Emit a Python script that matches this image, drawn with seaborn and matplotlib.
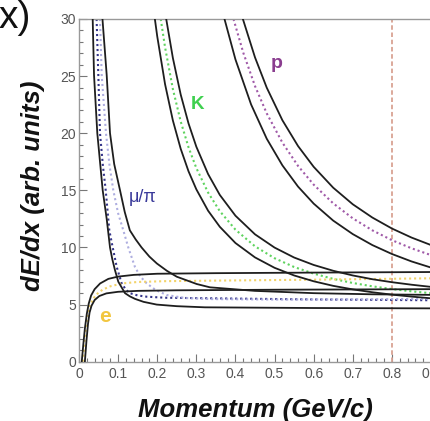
import matplotlib
matplotlib.use("Agg")
import matplotlib.pyplot as plt
from matplotlib.ticker import MultipleLocator
import seaborn as sns

# momentum (GeV/c) / dE/dx (arb. units)
# mu/pi band
mupi_lo_p = [0.035, 0.0384, 0.0468, 0.0606, 0.0708, 0.0793, 0.085, 0.0921, 0.1005, 0.1176, 0.13, 0.1432,
             0.165, 0.1987, 0.25, 0.322, 0.60, 0.90]
mupi_lo_v = [30.0, 25.1, 20.0, 15.0, 12.5, 10.0, 9.0, 8.0, 7.0, 6.0, 5.72, 5.5, 5.24, 5.0, 4.86, 4.76, 4.7, 4.67]
mu_p = [0.045, 0.0494, 0.0537, 0.061, 0.0683, 0.0775, 0.0862, 0.0964, 0.109, 0.120, 0.130, 0.150, 0.173,
        0.22, 0.335, 0.60, 0.90]
mu_v = [30.0, 25.1, 20.0, 17.2, 15.0, 11.5, 10.0, 8.3, 6.86, 6.3, 6.0, 5.8, 5.69, 5.6, 5.55, 5.45, 5.38]
pi_p = [0.0537, 0.058, 0.069, 0.078, 0.0877, 0.1, 0.1133, 0.126, 0.143, 0.157, 0.173, 0.195, 0.224, 0.27,
        0.335, 0.50, 0.70, 0.90]
pi_v = [30.0, 25.1, 20.0, 17.2, 15.0, 13.0, 11.5, 10.0, 8.3, 7.45, 6.86, 6.3, 5.84, 5.58, 5.48, 5.44, 5.46, 5.5]
mupi_hi_p = [0.060, 0.0708, 0.0793, 0.090, 0.1049, 0.117, 0.130, 0.145, 0.160, 0.18, 0.199, 0.225, 0.250,
             0.301, 0.335, 0.45, 0.60, 0.75, 0.90]
mupi_hi_v = [30.0, 25.1, 20.0, 17.3, 15.0, 13.1, 11.5, 10.7, 10.0, 9.2, 8.6, 7.95, 7.44, 6.8, 6.51, 6.2, 6.0,
             5.9, 5.85]

# kaon band
k_p = [0.209, 0.22, 0.24, 0.26, 0.28, 0.30, 0.33, 0.36, 0.40, 0.45, 0.50, 0.55, 0.60, 0.65, 0.70, 0.75,
       0.80, 0.85, 0.90]
k_v = [30.0, 27.53, 23.87, 21.03, 18.77, 16.95, 14.81, 13.18, 11.56, 10.10, 9.06, 8.29, 7.71, 7.25, 6.89,
       6.60, 6.36, 6.16, 6.00]
k_lo_p = [0.194, 0.20, 0.22, 0.24, 0.26, 0.28, 0.30, 0.33, 0.36, 0.40, 0.45, 0.50, 0.55, 0.60, 0.65, 0.70,
          0.75, 0.80, 0.85, 0.90]
k_lo_v = [30.0, 28.49, 24.30, 21.12, 18.64, 16.67, 15.09, 13.22, 11.81, 10.39, 9.13, 8.22, 7.55, 7.04, 6.64,
          6.33, 6.08, 5.87, 5.70, 5.55]
k_hi_p = [0.223, 0.24, 0.26, 0.28, 0.30, 0.33, 0.36, 0.40, 0.45, 0.50, 0.55, 0.60, 0.65, 0.70, 0.75, 0.80,
          0.85, 0.90]
k_hi_v = [30.0, 26.59, 23.39, 20.86, 18.82, 16.43, 14.60, 12.78, 11.15, 9.99, 9.12, 8.47, 7.96, 7.55, 7.22,
          6.96, 6.74, 6.55]

# proton band
pr_p = [0.395, 0.42, 0.45, 0.48, 0.52, 0.56, 0.60, 0.65, 0.70, 0.75, 0.80, 0.85, 0.90]
pr_v = [30.0, 27.05, 24.13, 21.74, 19.18, 17.14, 15.50, 13.86, 12.55, 11.50, 10.64, 9.93, 9.33]
pr_lo_p = [0.372, 0.40, 0.44, 0.48, 0.52, 0.56, 0.60, 0.65, 0.70, 0.75, 0.80, 0.85, 0.90]
pr_lo_v = [30.0, 26.46, 22.52, 19.52, 17.19, 15.33, 13.84, 12.35, 11.17, 10.21, 9.43, 8.78, 8.24]
pr_hi_p = [0.419, 0.45, 0.48, 0.52, 0.56, 0.60, 0.65, 0.70, 0.75, 0.80, 0.85, 0.90]
pr_hi_v = [30.0, 26.64, 23.99, 21.14, 18.88, 17.06, 15.23, 13.78, 12.62, 11.66, 10.87, 10.21]

# electron band
e_p = [0.010, 0.016, 0.022, 0.028, 0.036, 0.045, 0.06, 0.08, 0.11, 0.15, 0.22, 0.35, 0.60, 0.90]
e_v = [0.0, 2.5, 4.0, 4.9, 5.5, 5.9, 6.3, 6.6, 6.85, 6.98, 7.05, 7.1, 7.18, 7.3]
e_hi_p = [0.007, 0.011, 0.015, 0.020, 0.025, 0.031, 0.040, 0.054, 0.075, 0.10, 0.14, 0.20, 0.35, 0.60, 0.90]
e_hi_v = [0.0, 1.5, 2.9, 4.2, 5.1, 5.8, 6.35, 6.85, 7.25, 7.45, 7.6, 7.7, 7.75, 7.8, 7.85]
e_lo_p = [0.015, 0.019, 0.023, 0.027, 0.032, 0.040, 0.052, 0.07, 0.10, 0.15, 0.25, 0.50, 0.90]
e_lo_v = [0.0, 1.8, 3.3, 4.3, 4.9, 5.4, 5.75, 5.98, 6.12, 6.2, 6.25, 6.3, 6.35]

cut_p = 0.8

sns.set_style("ticks")
plt.rcParams['font.family'] = ['Liberation Sans', 'DejaVu Sans']

fig = plt.figure(figsize=(4.31, 4.21), dpi=100)
ax = fig.add_axes([79 / 431, 1 - 361.7 / 421, 352 / 431, 342.7 / 421])

dot = (0, (1, 1.4))
centers = [
    (mu_p, mu_v, '#35358a'),
    (pi_p, pi_v, '#aeaee0'),
    (k_p, k_v, '#5fd35f'),
    (pr_p, pr_v, '#a05aa8'),
    (e_p, e_v, '#f2d36a'),
]
for xs, ys, col in centers:
    sns.lineplot(x=xs, y=ys, ax=ax, color=col, linestyle=dot, linewidth=1.5, sort=False,
                 estimator=None, zorder=2)

edges = [(mupi_lo_p, mupi_lo_v), (mupi_hi_p, mupi_hi_v), (k_lo_p, k_lo_v), (k_hi_p, k_hi_v),
         (pr_lo_p, pr_lo_v), (pr_hi_p, pr_hi_v), (e_lo_p, e_lo_v), (e_hi_p, e_hi_v)]
for xs, ys in edges:
    sns.lineplot(x=xs, y=ys, ax=ax, color='#1e1e1e', linewidth=1.3, sort=False, estimator=None, zorder=3)

ax.axvline(cut_p, color='#d9a293', linestyle=(0, (2.5, 1.5)), linewidth=1.3, zorder=1)

ax.set_xlim(0, 0.9)
ax.set_ylim(0, 30)
ax.xaxis.set_major_locator(MultipleLocator(0.1))
ax.xaxis.set_minor_locator(MultipleLocator(0.02))
ax.yaxis.set_major_locator(MultipleLocator(5))
ax.yaxis.set_minor_locator(MultipleLocator(1))
ax.set_xticks([0, 0.1, 0.2, 0.3, 0.4, 0.5, 0.6, 0.7, 0.8, 0.9])
ax.set_xticklabels(['0', '0.1', '0.2', '0.3', '0.4', '0.5', '0.6', '0.7', '0.8', '0.9'])
ax.tick_params(which='major', direction='in', length=6, width=0.8, color='#777777',
               labelcolor='#555555', labelsize=10)
ax.tick_params(which='minor', direction='in', length=3, width=0.8, color='#777777')
ax.tick_params(axis='y', pad=2)
ax.tick_params(axis='x', pad=3.5)
for side in ['left', 'bottom', 'top']:
    ax.spines[side].set_color('#999999')
    ax.spines[side].set_linewidth(1.0)
ax.spines['right'].set_visible(False)

ax.set_xlabel('Momentum (GeV/c)', fontsize=18.5, fontweight='bold', fontstyle='italic',
              color='#111111', va='baseline')
ax.xaxis.set_label_coords(0.5, (361.7 - 416.5) / 342.7)
ax.set_ylabel('dE/dx (arb. units)', fontsize=18.5, fontweight='bold', fontstyle='italic',
              color='#111111', va='baseline')
ax.yaxis.set_label_coords((40 - 79) / 352, (361.7 - 186) / 342.7)

ax.text(0.506, 26.1, 'p', color='#8a3d8f', fontsize=14, fontweight='bold', ha='center', va='center')
ax.text(0.304, 22.5, 'K', color='#3fd04f', fontsize=13.5, fontweight='bold', ha='center', va='center')
ax.text(0.162, 14.4, 'μ/π', color='#3a3a9a', fontsize=13, ha='center', va='center')
ax.text(0.066, 4.0, 'e', color='#f2c640', fontsize=15, fontweight='bold', ha='center', va='center')

fig.text(-0.004, 1 - 28 / 421, 'x)', fontsize=28, color='#111111', ha='left', va='baseline')

fig.savefig('out.png', dpi=100)
